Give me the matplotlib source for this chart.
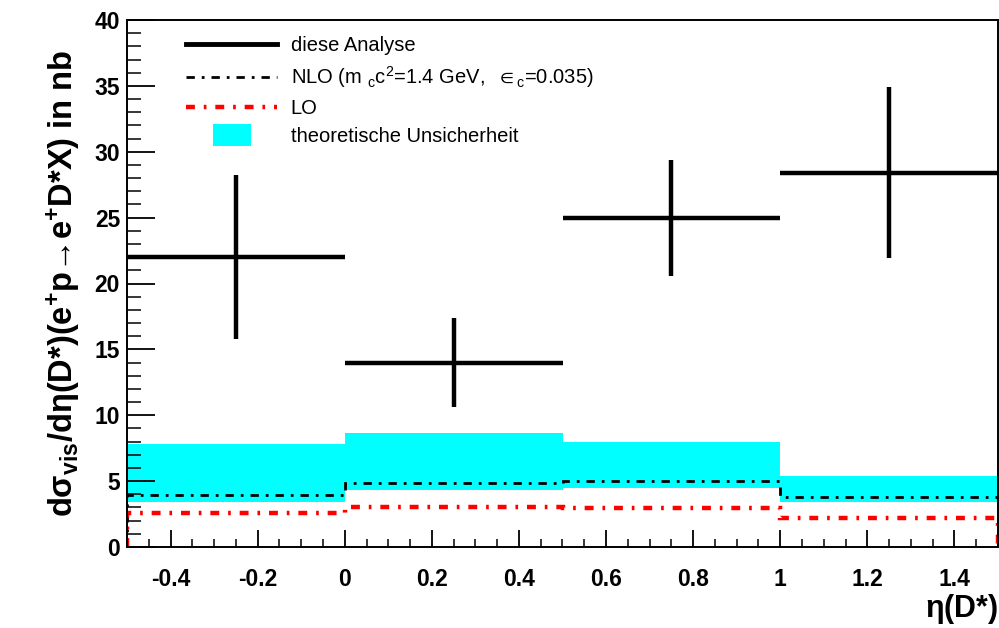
import numpy as np
import matplotlib
matplotlib.use("Agg")
import matplotlib.pyplot as plt
from matplotlib.lines import Line2D
from matplotlib.patches import Patch, Rectangle
from matplotlib.legend_handler import HandlerPatch

plt.rcParams['font.family'] = ['Liberation Sans', 'DejaVu Sans']
plt.rcParams['mathtext.fontset'] = 'custom'
plt.rcParams['mathtext.rm'] = 'Liberation Sans'
plt.rcParams['mathtext.it'] = 'Liberation Sans'
plt.rcParams['mathtext.bf'] = 'Liberation Sans:bold'
plt.rcParams['mathtext.default'] = 'regular'

# bins in eta(D*)
edges = [-0.5, 0.0, 0.5, 1.0, 1.5]
# measured cross section and errors
data = [22.0, 14.0, 25.0, 28.4]
data_err = [6.2, 3.35, 4.4, 6.5]
# theory
nlo = [3.95, 4.83, 5.0, 3.82]
lo = [2.55, 3.0, 2.97, 2.17]
band_lo = [3.44, 4.33, 4.45, 3.44]
band_hi = [7.78, 8.65, 7.95, 5.41]

edges = np.array(edges)
centers = 0.5 * (edges[:-1] + edges[1:])
halfw = 0.5 * np.diff(edges)

fig = plt.figure(figsize=(9.99, 6.28), dpi=100)
ax = fig.add_axes([127/999, 81/628, 871/999, 527/628])

# uncertainty band
for i in range(len(centers)):
    ax.fill_between([edges[i], edges[i+1]], band_lo[i], band_hi[i],
                    color='#00ffff', lw=0, zorder=1)

ax.stairs(nlo, edges, baseline=0, color='black', lw=2,
          linestyle=(0, (3, 2.5, 1, 2.5)), zorder=2)
ax.stairs(lo, edges, baseline=0, color='red', lw=3.2,
          linestyle=(0, (2, 2, 0.6, 2)), zorder=2)

ax.errorbar(centers, data, xerr=halfw, yerr=data_err, fmt='none',
            ecolor='black', elinewidth=3.2, capsize=0, zorder=3)

ax.set_xlim(-0.5, 1.5)
ax.set_ylim(0, 40)
ax.set_xticks(np.arange(-0.4, 1.41, 0.2))
ax.set_xticklabels(['-0.4', '-0.2', '0', '0.2', '0.4', '0.6', '0.8', '1', '1.2', '1.4'])
ax.set_xticks(np.arange(-0.5, 1.5, 0.05), minor=True)
ax.set_yticks(np.arange(0, 41, 5))
ax.set_yticks(np.arange(0, 41, 1), minor=True)

ax.tick_params(axis='x', which='major', direction='in', length=12, width=1.3,
               labelsize=16.5, pad=15)
ax.tick_params(axis='x', which='minor', direction='in', length=6, width=1.1)
ax.tick_params(axis='y', which='major', direction='in', length=20, width=1.3,
               labelsize=16.5, pad=5)
ax.tick_params(axis='y', which='minor', direction='in', length=10, width=1.1)
for lab in ax.get_xticklabels() + ax.get_yticklabels():
    lab.set_fontweight('bold')
for s in ax.spines.values():
    s.set_linewidth(1.4)

ax.set_ylabel(r'd$\sigma_{\mathbf{vis}}$/d$\eta$(D*)(e$^{\mathbf{+}}$p→e$^{\mathbf{+}}$D*X) in nb',
              fontsize=23.5, fontweight='bold', labelpad=9)
fig.text(998/999, 1 - 609/628, r'$\eta$(D*)', fontsize=22, fontweight='bold',
         ha='right', va='center')


class BoxHandler(HandlerPatch):
    def create_artists(self, legend, orig_handle, xdescent, ydescent,
                       width, height, fontsize, trans):
        w = width * 0.42
        h = height * 1.5
        p = Rectangle((width * 0.3 - xdescent, -ydescent + height/2 - h/2), w, h,
                      facecolor='#00ffff', lw=0, transform=trans)
        return [p]


handles = [
    Line2D([], [], color='black', lw=3.5),
    Line2D([], [], color='black', lw=2, linestyle=(0, (3, 2.5, 1, 2.5))),
    Line2D([], [], color='red', lw=3.2, linestyle=(0, (2, 2, 0.6, 2))),
    Patch(facecolor='#00ffff'),
]
labels = [
    'diese Analyse',
    r'NLO (m $_c$c$^2$=1.4 GeV,  $\in_c$=0.035)',
    'LO',
    'theoretische Unsicherheit',
]
leg = ax.legend(handles, labels, loc='upper left',
                bbox_to_anchor=((182 - 127) / 871, 1 - 12 / 527),
                frameon=False, fontsize=14.5, handlelength=4.5,
                handletextpad=0.7, labelspacing=0.45, borderaxespad=0,
                borderpad=0.2,
                handler_map={Patch: BoxHandler()})

fig.savefig('out.png', dpi=100)
